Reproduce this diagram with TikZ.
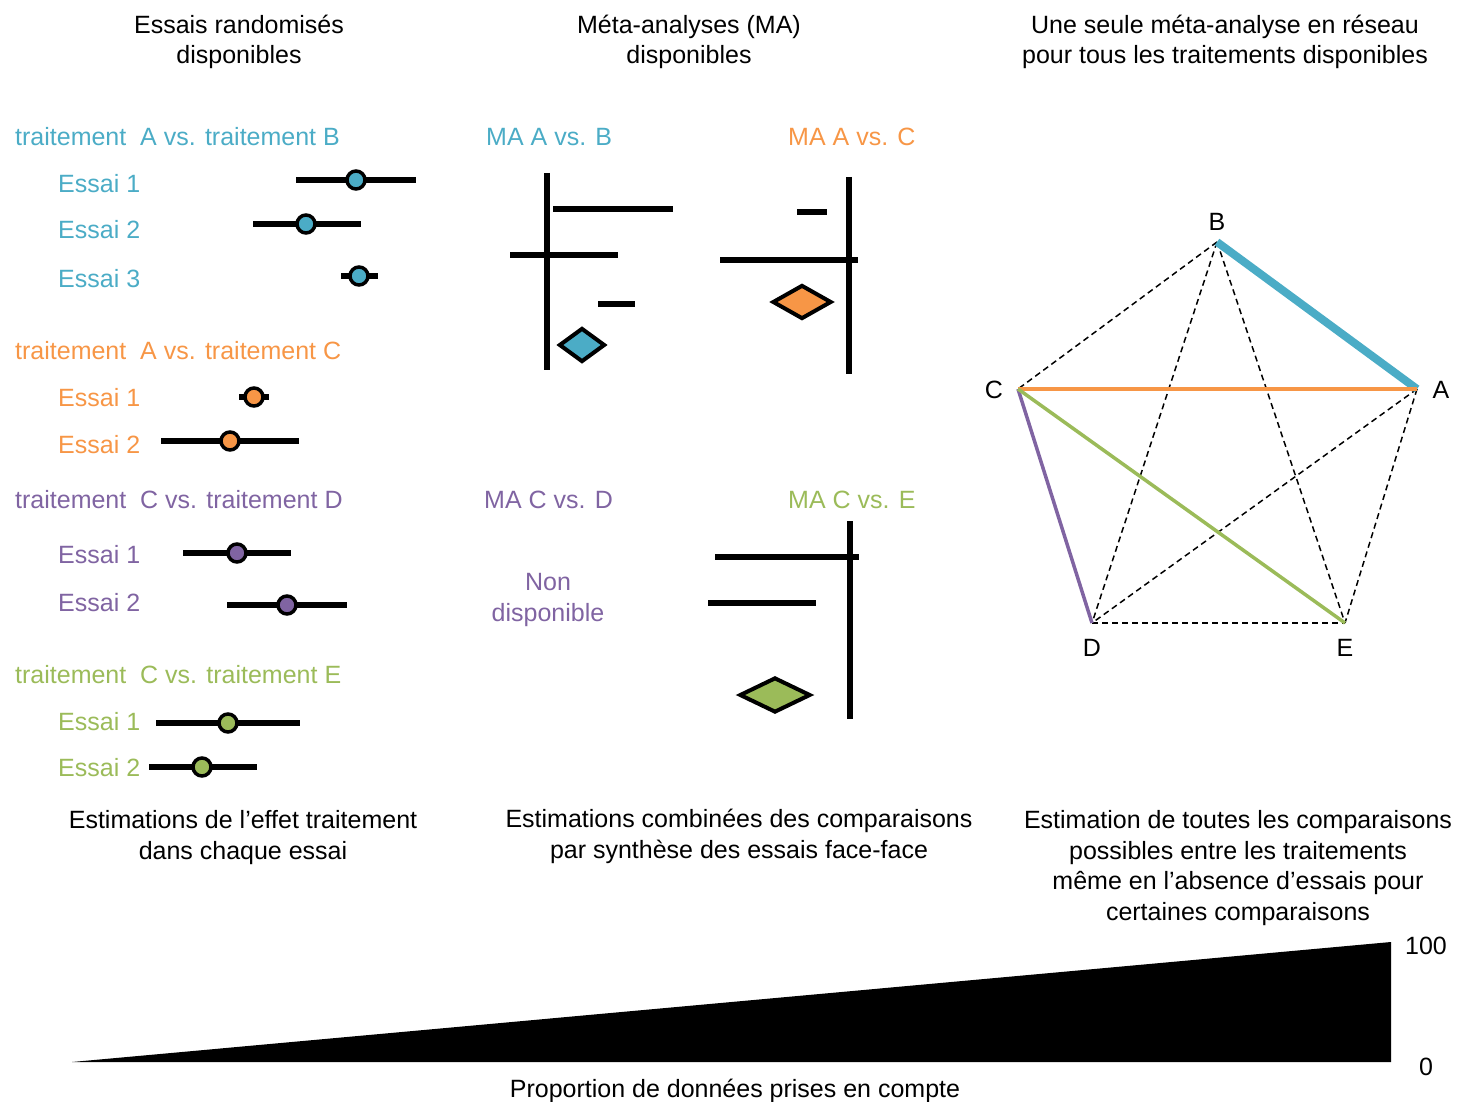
\documentclass[tikz,border=0pt]{standalone}
\usepackage{fontspec}
\setmainfont{Liberation Sans}
\usepackage{xcolor}
\usepackage{tikz}
\usetikzlibrary{shapes.geometric}

\definecolor{colAB}{HTML}{4BACC6}
\definecolor{colAC}{HTML}{F79646}
\definecolor{colCD}{HTML}{8064A2}
\definecolor{colCE}{HTML}{9BBB59}

\begin{document}
\begin{tikzpicture}[
    x=1pt, y=-1pt,
    font=\fontsize{25}{30.5}\selectfont,
    titre/.style={align=center, anchor=base, inner sep=0pt},
    etiq/.style={anchor=base west, inner sep=0pt},
    ic/.style={line width=6pt},
    estim/.style={circle, draw, line width=3.5pt, minimum size=18pt, inner sep=0pt},
    losange/.style={diamond, draw, line width=4pt, inner sep=0pt},
    absent/.style={dashed, dash pattern=on 6pt off 4pt, line width=1.5pt}
]
    \useasboundingbox (0,0) rectangle (1459,1102);

    % column headings (base = last line)
    \node[titre] (h1) at (239,64) {Essais randomisés\\disponibles};
    \node[titre] (h2) at (689,64) {Méta-analyses (MA)\\disponibles};
    \node[titre] (h3) at (1225,64) {Une seule méta-analyse en réseau\\pour tous les traitements disponibles};

    % individual trials
    \node[etiq, text=colAB] (tAB) at (15,146) {traitement\ \ A vs. traitement B};
    \node[etiq, text=colAC] (tAC) at (15,359) {traitement\ \ A vs. traitement C};
    \node[etiq, text=colCD] (tCD) at (15,508) {traitement\ \ C vs. traitement D};
    \node[etiq, text=colCE] (tCE) at (15,683) {traitement\ \ C vs. traitement E};

    \foreach \k/\n/\y/\b/\lo/\m/\hi in {AB/1/180/193/296/356/416, AB/2/224/239/253/306/361,
        AB/3/276/287/341/359/378, AC/1/397/406/239/254/269, AC/2/441/453/161/230/299,
        CD/1/553/563/183/237/291, CD/2/605/611/227/287/347,
        CE/1/723/730/156/228/300, CE/2/767/776/149/202/257} {
        \node[etiq, text=col\k] (e\k\n) at (58,\b) {Essai \n};
        \draw[ic] (\lo,\y) -- (\hi,\y);
        \node[estim, fill=col\k] (p\k\n) at (\m,\y) {};
    }

    % pairwise meta-analyses
    \node[etiq, text=colAB] (mAB) at (486,146) {MA A vs. B};
    \node[etiq, text=colAC] (mAC) at (788,146) {MA A vs. C};
    \node[etiq, text=colCD] (mCD) at (484,508) {MA C vs. D};
    \node[etiq, text=colCE] (mCE) at (788,508) {MA C vs. E};

    \draw[ic] (547,173) -- (547,370);
    \draw[ic] (553,209) -- (673,209);
    \draw[ic] (510,255) -- (618,255);
    \draw[ic] (598,304) -- (635,304);
    \node[losange, fill=colAB, minimum width=46pt, minimum height=34pt] (dAB) at (582,345) {};

    \draw[ic] (849,177) -- (849,374);
    \draw[ic] (797,212) -- (827,212);
    \draw[ic] (720,260) -- (858,260);
    \node[losange, fill=colAC, minimum width=59pt, minimum height=34pt] (dAC) at (802,302) {};

    \node[titre, text=colCD] (nd) at (548,621) {Non\\disponible};

    \draw[ic] (850,521) -- (850,719);
    \draw[ic] (715,557) -- (859,557);
    \draw[ic] (708,603) -- (816,603);
    \node[losange, fill=colCE, minimum width=71pt, minimum height=35pt] (dCE) at (775,695) {};

    % network
    \coordinate (A) at (1417,389);
    \coordinate (B) at (1217,242);
    \coordinate (C) at (1018,389);
    \coordinate (D) at (1092,623);
    \coordinate (E) at (1345,623);
    \node (lA) at (1441,390) {A};
    \node (lB) at (1217,222) {B};
    \node (lC) at (994,390) {C};
    \node (lD) at (1092,648) {D};
    \node (lE) at (1345,648) {E};

    \foreach \u/\v in {B/C, B/D, B/E, A/D, A/E, D/E}
        \draw[absent] (\u) -- (\v);
    \draw[colAB, line width=8pt] (A) -- (B);
    \draw[colAC, line width=4pt] (C) -- (A);
    \draw[colCD, line width=3.5pt] (C) -- (D);
    \draw[colCE, line width=3.5pt] (C) -- (E);

    % captions
    \node[titre] (c1) at (243,859) {Estimations de l’effet traitement\\dans chaque essai};
    \node[titre] (c2) at (739,858) {Estimations combinées des comparaisons\\par synthèse des essais face-face};
    \node[titre] (c3) at (1238,920) {Estimation de toutes les comparaisons\\possibles entre les traitements\\même en l’absence d’essais pour\\certaines comparaisons};

    % amount of data used
    \fill (72,1062) -- (1391,942) -- (1391,1062) -- cycle;
    \node[titre] (v100) at (1426,954) {100};
    \node[titre] (v0) at (1426,1075) {0};
    \node[titre] (prop) at (735,1097) {Proportion de données prises en compte};
\end{tikzpicture}
\end{document}
